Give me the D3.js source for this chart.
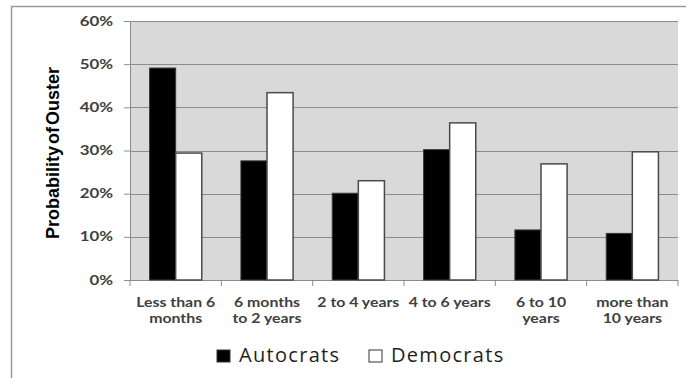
<!DOCTYPE html>
<html>
<head>
<meta charset="utf-8">
<script src="https://cdn.jsdelivr.net/npm/d3@7"></script>
<style>
  html, body { margin: 0; padding: 0; background: #fff; }
  svg { display: block; }
</style>
</head>
<body>
<svg id="chart" width="686" height="378"></svg>
<script>
// Tenure categories (two-line labels) and ouster probabilities per regime type
const categories = [
  ["Less than 6", "months"],
  ["6 months", "to 2 years"],
  ["2 to 4 years"],
  ["4 to 6 years"],
  ["6 to 10", "years"],
  ["more than", "10 years"]
];
const autocrats = [0.491, 0.276, 0.201, 0.302, 0.116, 0.108];
const democrats = [0.294, 0.434, 0.230, 0.364, 0.269, 0.297];
const seriesNames = ["Autocrats", "Democrats"];
const yTicks = [0, 0.1, 0.2, 0.3, 0.4, 0.5, 0.6];

const svg = d3.select("#chart");
const plot = { left: 130, right: 678, top: 21, bottom: 280 };
const labelFont = "Lato, 'Open Sans', sans-serif";

// Outer frame lines (top and left edges)
svg.append("line").attr("x1", 11).attr("x2", 686).attr("y1", 6.5).attr("y2", 6.5)
  .attr("stroke", "#9a9a9a").attr("stroke-width", 1.5);
svg.append("line").attr("x1", 11.5).attr("x2", 11.5).attr("y1", 6).attr("y2", 378)
  .attr("stroke", "#9a9a9a").attr("stroke-width", 1.5);

const x0 = d3.scaleBand()
  .domain(d3.range(categories.length))
  .range([plot.left, plot.right])
  .paddingInner(0).paddingOuter(0);

// Excel-style 150% gap: each bar is 1/3.5 of the category width
const bw = x0.bandwidth() / 3.5;
const gap = bw * 0.75;

const y = d3.scaleLinear().domain([0, 0.6]).range([plot.bottom, plot.top]);

// Plot area background
svg.append("rect")
  .attr("x", plot.left).attr("y", plot.top)
  .attr("width", plot.right - plot.left).attr("height", plot.bottom - plot.top)
  .attr("fill", "#d9d9d9");

// Horizontal gridlines
svg.append("g").selectAll("line").data(yTicks.filter(d => d > 0)).join("line")
  .attr("x1", plot.left).attr("x2", plot.right)
  .attr("y1", d => Math.round(y(d)) + 0.5).attr("y2", d => Math.round(y(d)) + 0.5)
  .attr("stroke", "#8c8c8c").attr("stroke-width", 1.2);

// Y axis; labels are drawn in a wide, stretched face
const yAxis = d3.axisLeft(y).tickValues(yTicks).tickFormat(d3.format(".0%")).tickSize(6).tickPadding(10);
const gy = svg.append("g").attr("transform", `translate(${plot.left},0)`).call(yAxis);
gy.select(".domain").attr("stroke", "#8c8c8c");
gy.selectAll(".tick line").attr("stroke", "#8c8c8c");
gy.selectAll(".tick text")
  .attr("x", 0)
  .attr("transform", "translate(-17,0) scale(1.35,1)")
  .attr("fill", "#404040")
  .style("font-family", labelFont)
  .style("font-weight", "bold")
  .style("font-size", "12.5px");

// X axis baseline with boundary ticks
const bounds = d3.range(categories.length + 1).map(i => plot.left + i * x0.bandwidth());
svg.append("line").attr("x1", plot.left).attr("x2", plot.right)
  .attr("y1", plot.bottom + 0.5).attr("y2", plot.bottom + 0.5)
  .attr("stroke", "#8c8c8c").attr("stroke-width", 1.2);
svg.append("g").selectAll("line").data(bounds).join("line")
  .attr("x1", d => d).attr("x2", d => d)
  .attr("y1", plot.bottom).attr("y2", plot.bottom + 6)
  .attr("stroke", "#8c8c8c");

// Bars
const rows = categories.map((c, i) => ({ i, a: autocrats[i], d: democrats[i] }));
const g = svg.append("g");
g.selectAll("rect.aut").data(rows).join("rect")
  .attr("class", "aut")
  .attr("x", d => x0(d.i) + gap)
  .attr("y", d => y(d.a))
  .attr("width", bw)
  .attr("height", d => y(0) - y(d.a))
  .attr("fill", "#000").attr("stroke", "#3a3a3a").attr("stroke-width", 1);
g.selectAll("rect.dem").data(rows).join("rect")
  .attr("class", "dem")
  .attr("x", d => x0(d.i) + gap + bw)
  .attr("y", d => y(d.d))
  .attr("width", bw)
  .attr("height", d => y(0) - y(d.d))
  .attr("fill", "#fff").attr("stroke", "#4a4a4a").attr("stroke-width", 1.5);

// Category labels, one text element per line
const labelLines = categories.flatMap((lines, i) => lines.map((ln, k) => ({ i, k, ln })));
svg.append("g").selectAll("text").data(labelLines).join("text")
  .attr("transform", d => `translate(${x0(d.i) + x0.bandwidth() / 2},${307 + d.k * 15.7}) scale(1.22,1)`)
  .attr("text-anchor", "middle")
  .attr("fill", "#404040")
  .style("font-family", labelFont)
  .style("font-weight", "bold")
  .style("font-size", "13px")
  .text(d => d.ln);

// Y axis title
svg.append("text")
  .attr("transform", "translate(59,153) rotate(-90)")
  .attr("text-anchor", "middle")
  .attr("fill", "#000")
  .style("font-family", "'Liberation Sans Narrow', 'Liberation Sans', sans-serif")
  .style("font-weight", "bold")
  .style("font-size", "18px")
  .style("word-spacing", "-3px")
  .text("Probability of Ouster");

// Legend
const legend = svg.append("g");
const legendItems = [
  { name: seriesNames[0], fill: "#000", x: 217 },
  { name: seriesNames[1], fill: "#fff", x: 369 }
];
legendItems.forEach(it => {
  legend.append("rect")
    .attr("x", it.x).attr("y", 350).attr("width", 13).attr("height", 12)
    .attr("fill", it.fill).attr("stroke", "#333").attr("stroke-width", 1);
  legend.append("text")
    .attr("x", it.x + 22).attr("y", 362)
    .attr("fill", "#1e1e1e")
    .style("font-family", "'Open Sans', sans-serif")
    .style("font-size", "20px")
    .style("letter-spacing", "1.3px")
    .text(it.name);
});
</script>
</body>
</html>
